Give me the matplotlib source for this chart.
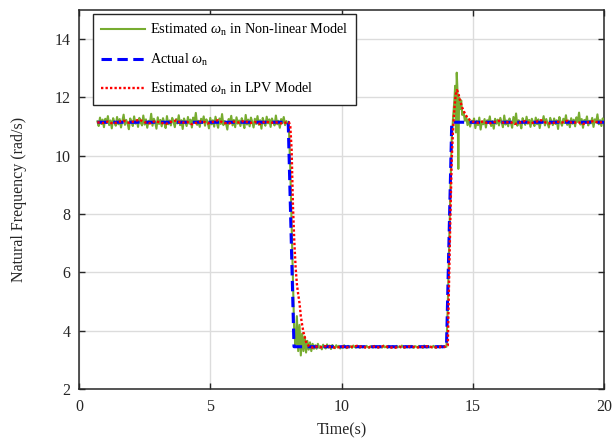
import numpy as np
import matplotlib
matplotlib.use("Agg")
import matplotlib.pyplot as plt

plt.rcParams['font.family'] = ['Liberation Serif', 'DejaVu Serif']
plt.rcParams['mathtext.fontset'] = 'custom'
plt.rcParams['mathtext.rm'] = 'Liberation Serif'
plt.rcParams['mathtext.it'] = 'Liberation Serif:italic'

# ---------------- data ----------------
# Actual natural frequency (piecewise)
actual_t = [0.7, 7.97, 8.19, 14.0, 14.2, 20.0]
actual_v = [11.15, 11.15, 3.45, 3.45, 11.15, 11.15]

# Estimated in non-linear model (noisy)
nl_seg1_v = [
    11.18, 11.02, 11.31, 11.09, 11.24, 10.98, 11.27, 11.12, 11.36, 11.05,
    11.21, 10.94, 11.29, 11.15, 11.03, 11.33, 11.08, 11.26, 10.97, 11.19,
    11.41, 11.06, 11.23, 11.11, 10.91, 11.28, 11.17, 11.02, 11.35, 11.10,
    11.22, 10.99, 11.30, 11.14, 11.04, 11.38, 11.07, 11.25, 10.96, 11.20,
    11.12, 11.44, 11.03, 11.27, 11.16, 10.93, 11.32, 11.09, 11.23, 11.01,
    11.29, 11.13, 10.95, 11.36, 11.08, 11.21, 11.04, 11.30, 11.17, 10.98,
    11.26, 11.11, 11.39, 11.05, 11.22, 10.92, 11.28, 11.15, 11.02, 11.33,
    11.10, 11.24, 10.97, 11.31, 11.14, 11.47, 11.06, 11.20, 10.99, 11.27,
    11.12, 11.35, 11.03, 11.25, 11.16, 10.94, 11.30, 11.08, 11.22, 11.00,
    11.34, 11.13, 10.96, 11.28, 11.09, 11.43, 11.05, 11.19, 11.11, 10.90,
    11.26, 11.15, 11.37, 11.04, 11.23, 10.98, 11.32, 11.10, 11.21, 11.02,
    11.29, 11.14, 10.95, 11.40, 11.07, 11.24, 11.01, 11.31, 11.16, 10.97,
    11.27, 11.09, 11.36, 11.06, 11.22, 10.93, 11.30, 11.13, 11.03, 11.34,
    11.11, 11.25, 10.99, 11.28, 11.15, 11.04, 11.38, 11.08, 11.20, 10.96,
    11.26, 11.12, 11.33, 11.05, 11.19, 11.10]
nl_drop_t = [8.00, 8.05, 8.10, 8.15, 8.20, 8.25, 8.30, 8.35, 8.40, 8.45,
             8.50, 8.55, 8.60, 8.65, 8.70, 8.75, 8.80, 8.85, 8.90, 8.95]
nl_drop_v = [10.9, 9.5, 7.6, 5.6, 3.9, 3.5, 4.5, 3.3, 4.2, 3.15,
             3.9, 3.3, 3.8, 3.25, 3.65, 3.35, 3.6, 3.3, 3.55, 3.38]
nl_seg2_v = [
    3.50, 3.38, 3.55, 3.41, 3.47, 3.36, 3.52, 3.44, 3.39, 3.53,
    3.42, 3.49, 3.37, 3.51, 3.45, 3.40, 3.50, 3.43, 3.48, 3.39,
    3.46, 3.41, 3.50, 3.44, 3.40, 3.48, 3.43, 3.47, 3.41, 3.49,
    3.44, 3.42, 3.48, 3.45, 3.41, 3.47, 3.43, 3.46, 3.42, 3.48,
    3.44, 3.41, 3.47, 3.45, 3.42, 3.48, 3.43, 3.46, 3.41, 3.47,
    3.44, 3.42, 3.49, 3.43, 3.46, 3.41, 3.48, 3.44, 3.42, 3.47,
    3.45, 3.41, 3.48, 3.43, 3.46, 3.42, 3.49, 3.44, 3.41, 3.47,
    3.43, 3.46, 3.42, 3.48, 3.44, 3.41, 3.47, 3.45, 3.42, 3.48,
    3.43, 3.46, 3.41, 3.49, 3.44, 3.42, 3.47, 3.43, 3.46, 3.42,
    3.48, 3.44, 3.41, 3.47, 3.45, 3.42, 3.48, 3.43, 3.46, 3.44]
nl_rise_t = [14.00, 14.05, 14.10, 14.15, 14.20, 14.25, 14.30, 14.33, 14.36, 14.39,
             14.42, 14.45, 14.48, 14.52, 14.56, 14.60, 14.65, 14.70, 14.75, 14.80,
             14.85, 14.90, 14.95]
nl_rise_v = [3.45, 4.9, 6.9, 8.9, 10.6, 11.3, 11.9, 12.4, 10.8, 12.85,
             12.2, 9.55, 12.0, 11.6, 11.9, 11.4, 11.5, 11.2, 11.35, 11.05,
             11.25, 11.0, 11.2]
nl_seg3_v = [
    11.12, 11.28, 10.95, 11.20, 11.05, 11.31, 10.90, 11.18, 11.08, 11.26,
    10.97, 11.22, 11.13, 11.35, 11.02, 11.19, 10.93, 11.27, 11.10, 11.24,
    11.04, 11.30, 11.15, 10.98, 11.38, 11.07, 11.21, 11.01, 11.28, 11.14,
    10.96, 11.33, 11.09, 11.45, 11.03, 11.22, 11.12, 10.94, 11.29, 11.16,
    11.06, 11.34, 11.10, 11.23, 10.99, 11.27, 11.13, 11.02, 11.31, 11.08,
    11.25, 10.95, 11.20, 11.14, 11.36, 11.04, 11.26, 11.11, 10.97, 11.30,
    11.17, 11.05, 11.28, 11.09, 11.22, 10.92, 11.33, 11.15, 11.03, 11.27,
    11.12, 11.39, 11.06, 11.21, 10.98, 11.29, 11.10, 11.24, 11.01, 11.32,
    11.16, 11.48, 11.07, 11.26, 10.96, 11.23, 11.13, 11.35, 11.04, 11.20,
    11.11, 11.30, 10.99, 11.25, 11.14, 11.42, 11.08, 11.22, 11.02, 11.28,
    11.18]

# Estimated in LPV model
lpv_seg1_v = [
    11.15, 11.12, 11.17, 11.10, 11.16, 11.20, 11.13, 11.18, 11.24, 11.15,
    11.11, 11.19, 11.14, 11.09, 11.16, 11.21, 11.12, 11.17, 11.08, 11.14,
    11.19, 11.11, 11.16, 11.22, 11.13, 11.10, 11.17, 11.14, 11.20, 11.12,
    11.16, 11.09, 11.18, 11.13, 11.15, 11.11, 11.14]
lpv_drop_t = [8.0, 8.05, 8.1, 8.15, 8.2, 8.25, 8.3, 8.35, 8.4, 8.45,
              8.5, 8.55, 8.6, 8.65, 8.7, 8.8, 8.9]
lpv_drop_v = [11.15, 11.0, 10.2, 8.3, 7.1, 6.2, 5.6, 5.25, 4.95, 4.5,
              4.2, 3.95, 3.78, 3.62, 3.52, 3.45, 3.42]
lpv_seg2_v = [
    3.46, 3.43, 3.47, 3.44, 3.41, 3.46, 3.43, 3.45, 3.48, 3.44,
    3.42, 3.46, 3.43, 3.47, 3.44, 3.41, 3.45, 3.43, 3.46, 3.44,
    3.42, 3.47, 3.44, 3.43, 3.45]
lpv_rise_t = [14.0, 14.05, 14.1, 14.15, 14.2, 14.25, 14.3, 14.35, 14.4, 14.45,
              14.5, 14.55, 14.6, 14.7, 14.8, 14.9, 15.0]
lpv_rise_v = [3.45, 3.5, 5.8, 8.0, 9.9, 10.9, 11.6, 12.1, 12.25, 12.15,
              11.95, 11.8, 11.65, 11.45, 11.3, 11.22, 11.17]
lpv_seg3_v = [
    11.13, 11.18, 11.10, 11.15, 11.20, 11.12, 11.17, 11.09, 11.14, 11.19,
    11.11, 11.16, 11.22, 11.13, 11.10, 11.17, 11.14, 11.20, 11.12, 11.16,
    11.09, 11.15, 11.19, 11.13, 11.17]

x_ticks = [0, 5, 10, 15, 20]
y_ticks = [2, 4, 6, 8, 10, 12, 14]
labels = [r'Estimated $\omega_{\mathrm{n}}$ in Non-linear Model',
          r'Actual $\omega_{\mathrm{n}}$',
          r'Estimated $\omega_{\mathrm{n}}$ in LPV Model']

# sample-time grids
nl_t = np.concatenate([np.linspace(0.7, 7.95, len(nl_seg1_v)), nl_drop_t,
                       np.linspace(9.0, 13.95, len(nl_seg2_v)), nl_rise_t,
                       np.linspace(15.0, 20.0, len(nl_seg3_v))])
nl_v = np.concatenate([nl_seg1_v, nl_drop_v, nl_seg2_v, nl_rise_v, nl_seg3_v])
lpv_t = np.concatenate([np.linspace(0.7, 7.9, len(lpv_seg1_v)), lpv_drop_t,
                        np.linspace(9.0, 13.8, len(lpv_seg2_v)), lpv_rise_t,
                        np.linspace(15.2, 20.0, len(lpv_seg3_v))])
lpv_v = np.concatenate([lpv_seg1_v, lpv_drop_v, lpv_seg2_v, lpv_rise_v, lpv_seg3_v])

# ---------------- plot ----------------
fig = plt.figure(figsize=(6.14, 4.41), dpi=100)
ax = fig.add_axes([79/614, 1-389/441, 525/614, 379/441])

tc = '#262626'
ax.plot(nl_t, nl_v, color='#77AC30', lw=1.5, label=labels[0], zorder=3)
ax.plot(actual_t, actual_v, color='#0000FF', lw=2.2, linestyle=(0, (3.4, 1.8)),
        label=labels[1], zorder=4)
ax.plot(lpv_t, lpv_v, color='#FF0000', lw=1.7, linestyle=(0, (1, 0.9)),
        label=labels[2], zorder=5)

ax.set_xlim(0, 20)
ax.set_ylim(2, 15)
ax.set_xticks(x_ticks)
ax.set_yticks(y_ticks)
ax.grid(True, color='#dcdcdc', lw=1.0)
ax.set_axisbelow(True)
ax.tick_params(direction='in', length=4, width=1.0, top=True, right=True,
               labelsize=11.5, colors=tc)
ax.tick_params(axis='x', pad=7.5)
ax.tick_params(axis='y', pad=6)
for s in ax.spines.values():
    s.set_linewidth(1.1)
    s.set_color(tc)

ax.set_xlabel('Time(s)', fontsize=11.5, color=tc, labelpad=5)
ax.set_ylabel('Natural Frequency (rad/s)', fontsize=11.5, color=tc, labelpad=20)

leg = ax.legend(loc='upper left', bbox_to_anchor=(14/525, (389-14)/379),
                borderaxespad=0, fontsize=10.3, handlelength=3.1,
                handletextpad=0.35, labelspacing=0.95, fancybox=False,
                framealpha=1, edgecolor=tc, borderpad=0.55)
leg.get_frame().set_linewidth(1.0)

fig.savefig('out.png', dpi=100)
